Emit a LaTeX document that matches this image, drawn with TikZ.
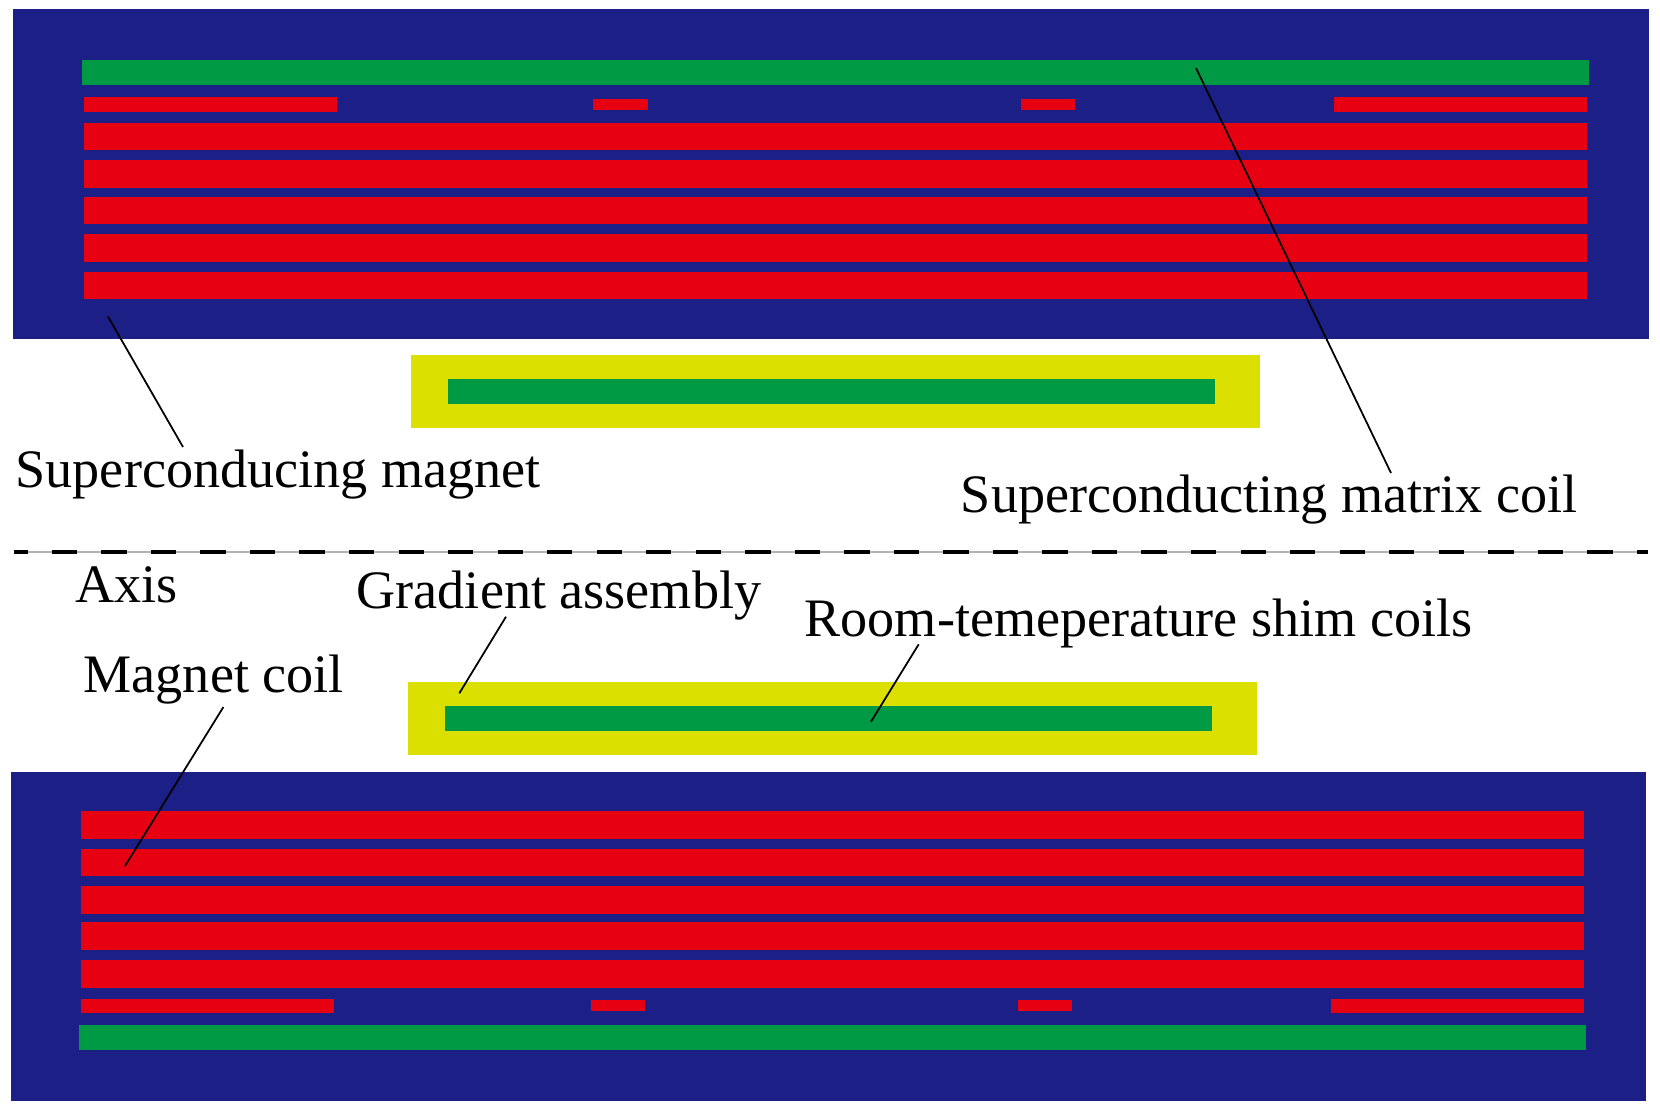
\documentclass[tikz,border=0pt]{standalone}
\usepackage{fontspec}
\setmainfont{Liberation Serif}
\definecolor{magnetblue}{HTML}{1C2086}
\definecolor{coilred}{HTML}{E60012}
\definecolor{shimgreen}{HTML}{009944}
\definecolor{gradyellow}{HTML}{DCE000}
\tikzset{
  magnet/.style={fill=magnetblue},
  coil/.style={fill=coilred},
  shim/.style={fill=shimgreen},
  gradient/.style={fill=gradyellow},
  label/.style={inner sep=0pt, anchor=base west, font=\fontsize{15.4pt}{18pt}\selectfont},
  leader/.style={draw=black, line width=0.5pt}
}
\begin{document}
\begin{tikzpicture}[x=0.01cm, y=-0.01cm]
    \useasboundingbox (0,0) rectangle (1660,1108);
    % upper half
    \fill[magnet] (13.3,9.3) rectangle (1649,338.5);
    \fill[shim] (82,60) rectangle (1589,85);
    \foreach \ya/\yb in {123/150, 160/187.7, 197/224, 234/261.7, 271.5/299}
        \fill[coil] (84,\ya) rectangle (1587,\yb);
    \foreach \xa/\xb in {84/337, 1334/1587}
        \fill[coil] (\xa,97) rectangle (\xb,111.7);
    \foreach \xa/\xb in {593.3/648, 1021/1075}
        \fill[coil] (\xa,99) rectangle (\xb,110);
    \fill[gradient] (411,355) rectangle (1260,428);
    \fill[shim] (448,379) rectangle (1214.7,404);
    % lower half
    \fill[magnet] (10.6,771.5) rectangle (1646,1101);
    \fill[shim] (79.3,1025) rectangle (1586,1050);
    \foreach \ya/\yb in {811/838.7, 848.7/876, 886/913.7, 922.3/950, 960/987.7}
        \fill[coil] (81,\ya) rectangle (1584,\yb);
    \foreach \xa/\xb in {81/334, 1331/1584}
        \fill[coil] (\xa,998.7) rectangle (\xb,1013.3);
    \foreach \xa/\xb in {591/645, 1018/1072.3}
        \fill[coil] (\xa,1000.3) rectangle (\xb,1011.3);
    \fill[gradient] (408,682) rectangle (1257,755);
    \fill[shim] (445,706) rectangle (1212,731);
    % axis
    \coordinate (axisL) at (14.3,552);
    \coordinate (axisR) at (1648,552);
    \draw[black!30, line width=0.3pt] (axisL) -- (axisR);
    \draw[black, line width=1.1pt, dash pattern=on 0.253cm off 0.242cm, dash phase=0.12cm] (axisL) -- (axisR);
    % labels
    \node[label] (magnetlab) at (15,487.7) {Superconducing magnet};
    \node[label] (matrixlab) at (960.2,512.3) {Superconducting matrix coil};
    \node[label] (axislab) at (75,602.5) {Axis};
    \node[label] (gradlab) at (356,608.7) {Gradient assembly};
    \node[label] (roomlab) at (804,636.7) {Room-temeperature shim coils};
    \node[label] (coillab) at (83,692) {Magnet coil};
    % leaders
    \coordinate (m1) at (108,316.5);
    \coordinate (m2) at (183,447);
    \coordinate (c1) at (1196,68);
    \coordinate (c2) at (1391,473);
    \coordinate (g1) at (506,616.7);
    \coordinate (g2) at (459.3,693.3);
    \coordinate (r1) at (918.7,644.3);
    \coordinate (r2) at (871,721.7);
    \coordinate (k1) at (223.4,707);
    \coordinate (k2) at (125,866);
    \draw[leader] (m1) -- (m2);
    \draw[leader] (c1) -- (c2);
    \draw[leader] (g1) -- (g2);
    \draw[leader] (r1) -- (r2);
    \draw[leader] (k1) -- (k2);
\end{tikzpicture}
\end{document}
